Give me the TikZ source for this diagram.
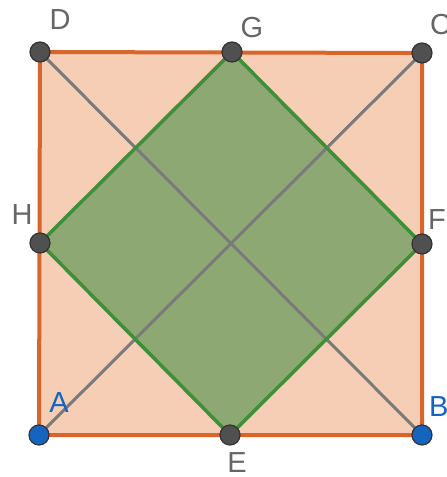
\documentclass[tikz,border=0pt]{standalone}
\usepackage{fontspec}
\setmainfont{Liberation Sans}
\usepackage{xcolor}
\definecolor{sqline}{HTML}{D9652B}
\definecolor{sqfill}{HTML}{F5CEB5}
\definecolor{rhline}{HTML}{3F8F3A}
\definecolor{rhfill}{HTML}{8EA873}
\definecolor{diag}{HTML}{7A7A7A}
\definecolor{ptgray}{HTML}{505050}
\definecolor{ptblue}{HTML}{1565C0}
\definecolor{lblgray}{HTML}{666666}
\usetikzlibrary{positioning}

\begin{document}
\begin{tikzpicture}[x=1pt,y=-1pt,
    pt/.style={circle,draw=black!80,line width=1.2pt,fill=ptgray,inner sep=0pt,minimum size=20pt},
    bluept/.style={pt,fill=ptblue},
    lbl/.style={text=lblgray,font=\fontsize{29}{29}\selectfont,inner sep=0pt},
    bluelbl/.style={lbl,text=ptblue}]
    \useasboundingbox (0,0) rectangle (447,477);
    % vertices of the square and midpoints
    \coordinate (A) at (39,435);
    \coordinate (B) at (422,435);
    \coordinate (C) at (422,53);
    \coordinate (D) at (40,52);
    \coordinate (E) at (230,435);
    \coordinate (F) at (422,244);
    \coordinate (G) at (232,52);
    \coordinate (H) at (40,243);
    \fill[sqfill] (A)--(B)--(C)--(D)--cycle;
    \fill[rhfill] (E)--(F)--(G)--(H)--cycle;
    \draw[diag,line width=3pt] (A)--(C) (B)--(D);
    \draw[rhline,line width=3.5pt,line join=round] (E)--(F)--(G)--(H)--cycle;
    \draw[sqline,line width=4pt,line join=round] (A)--(B)--(C)--(D)--cycle;
    % points
    \node[pt] (Dp) at (D) {};
    \node[pt] (Cp) at (C) {};
    \node[pt] (Gp) at (G) {};
    \node[pt] (Hp) at (H) {};
    \node[pt] (Fp) at (F) {};
    \node[pt] (Ep) at (E) {};
    \node[bluept] (Ap) at (A) {};
    \node[bluept] (Bp) at (B) {};
    % labels
    \node[lbl] at (60,20) {D};
    \node[lbl] at (252,28) {G};
    \node[lbl,anchor=west] at (430,25) {C};
    \node[lbl] at (22,215) {H};
    \node[lbl,anchor=west] at (428,220) {F};
    \node[bluelbl] at (59,403) {A};
    \node[bluelbl,anchor=west] at (429,407) {B};
    \node[lbl] at (237,463) {E};
\end{tikzpicture}
\end{document}
